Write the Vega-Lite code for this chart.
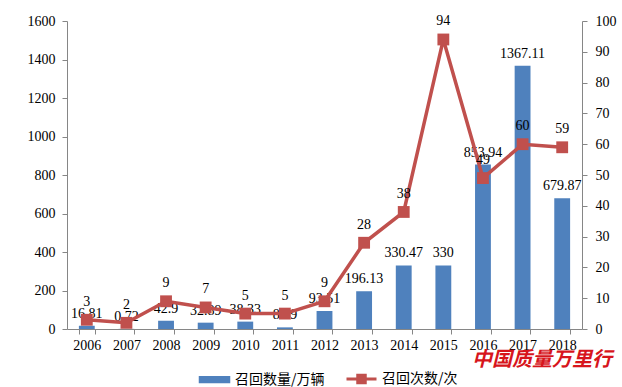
{
  "$schema": "https://vega.github.io/schema/vega-lite/v6.json",
  "width": 515,
  "height": 308,
  "autosize": "none",
  "padding": {"left": 67, "top": 21, "right": 40, "bottom": 58},
  "background": "white",
  "config": {
    "view": {"stroke": null},
    "font": "Liberation Serif",
    "axis": {
      "grid": false,
      "domainColor": "#868686",
      "tickColor": "#868686",
      "labelColor": "#000000",
      "labelFont": "Liberation Serif",
      "labelFontSize": 14,
      "tickSize": 5,
      "title": null
    }
  },
  "title": {
    "text": "中国质量万里行",
    "orient": "bottom",
    "anchor": "end",
    "color": "#D7151C",
    "font": "Noto Sans CJK SC",
    "fontSize": 20,
    "fontWeight": "bold",
    "fontStyle": "italic",
    "offset": -39,
    "dx": -4
  },
  "data": {
    "values": [
      {"year": "2006", "qty": 16.81, "count": 3},
      {"year": "2007", "qty": 0.72, "count": 2},
      {"year": "2008", "qty": 42.9, "count": 9},
      {"year": "2009", "qty": 32.89, "count": 7},
      {"year": "2010", "qty": 38.33, "count": 5},
      {"year": "2011", "qty": 8.49, "count": 5},
      {"year": "2012", "qty": 93.51, "count": 9},
      {"year": "2013", "qty": 196.13, "count": 28},
      {"year": "2014", "qty": 330.47, "count": 38},
      {"year": "2015", "qty": 330, "count": 94},
      {"year": "2016", "qty": 853.94, "count": 49},
      {"year": "2017", "qty": 1367.11, "count": 60},
      {"year": "2018", "qty": 679.87, "count": 59}
    ]
  },
  "encoding": {
    "x": {
      "field": "year",
      "type": "nominal",
      "scale": {"paddingInner": 0.6, "paddingOuter": 0.3},
      "axis": {"labelAngle": 0, "tickBand": "extent", "labelPadding": 4, "domainColor": "#868686", "labelFont": "Liberation Serif", "labelFontSize": 14}
    }
  },
  "layer": [
    {
      "encoding": {
        "y": {
          "field": "qty",
          "type": "quantitative",
          "scale": {"domain": [0, 1600], "nice": false},
          "axis": {"orient": "left", "values": [0, 200, 400, 600, 800, 1000, 1200, 1400, 1600], "format": "d", "labelPadding": 7, "labelFont": "Liberation Serif", "labelFontSize": 14}
        }
      },
      "layer": [
        {
          "mark": {"type": "bar"},
          "encoding": {
            "color": {
              "datum": "召回数量/万辆",
              "type": "nominal",
              "scale": {"domain": ["召回数量/万辆", "召回次数/次"], "range": ["#4F81BD", "#C0504D"]},
              "legend": {
                "orient": "none",
                "legendX": 131,
                "legendY": 341,
                "direction": "horizontal",
                "title": null,
                "symbolSize": 900,
                "labelFont": "Noto Sans CJK SC",
                "labelFontSize": 14,
                "labelColor": "#000000",
                "labelOffset": 4,
                "columnPadding": 15,
                "encode": {
                  "symbols": {
                    "update": {
                      "shape": [
                        {"test": "datum.value === '召回数量/万辆'", "value": "M-0.95,-0.14H0.95V0.14H-0.95Z"},
                        {"value": "M-1,0H1M-0.25,-0.25H0.25V0.25H-0.25Z"}
                      ],
                      "fill": [
                        {"test": "datum.value === '召回数量/万辆'", "value": "#4F81BD"},
                        {"value": "#C0504D"}
                      ],
                      "stroke": [
                        {"test": "datum.value === '召回数量/万辆'", "value": "transparent"},
                        {"value": "#C0504D"}
                      ],
                      "strokeWidth": {"value": 3},
                      "opacity": {"value": 1},
                      "fillOpacity": {"value": 1}
                    }
                  }
                }
              }
            }
          }
        },
        {
          "mark": {"type": "text", "baseline": "bottom", "dy": -5, "fontSize": 14, "font": "Liberation Serif", "color": "#000000"},
          "encoding": {
            "text": {"field": "qty", "type": "nominal"}
          }
        }
      ]
    },
    {
      "encoding": {
        "y": {
          "field": "count",
          "type": "quantitative",
          "scale": {"domain": [0, 100], "nice": false},
          "axis": {"orient": "right", "values": [0, 10, 20, 30, 40, 50, 60, 70, 80, 90, 100], "labelPadding": 8, "labelFont": "Liberation Serif", "labelFontSize": 14}
        }
      },
      "layer": [
        {
          "mark": {"type": "line", "strokeWidth": 3.5},
          "encoding": {
            "color": {"datum": "召回次数/次", "type": "nominal"}
          }
        },
        {
          "mark": {"type": "point", "shape": "square", "filled": true, "size": 140, "opacity": 1, "color": "#C0504D"}
        },
        {
          "mark": {"type": "text", "baseline": "bottom", "dy": -11, "fontSize": 14, "font": "Liberation Serif", "color": "#000000"},
          "encoding": {
            "text": {"field": "count", "type": "nominal"}
          }
        }
      ]
    }
  ],
  "resolve": {"scale": {"y": "independent"}}
}
